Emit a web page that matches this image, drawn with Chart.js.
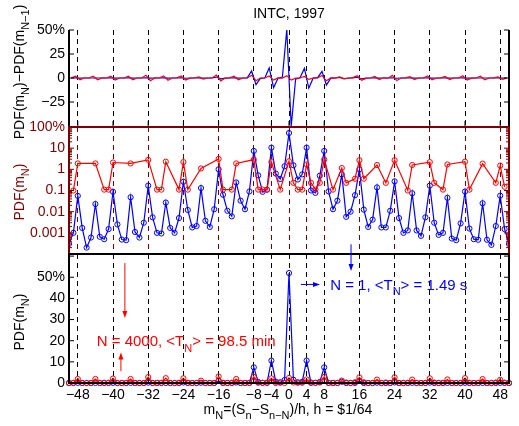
<!DOCTYPE html>
<html>
<head>
<meta charset="utf-8">
<script src="https://cdn.jsdelivr.net/npm/chart.js@4.4.1/dist/chart.umd.min.js"></script>
<style>
  body { margin: 0; background: #fff; }
  #wrap { position: relative; width: 519px; height: 426px; }
  canvas { position: absolute; left: 0; top: 0; }
</style>
</head>
<body>
<div id="wrap">
  <canvas id="top_panel" width="519" height="426"></canvas>
  <canvas id="mid_panel" width="519" height="426"></canvas>
  <canvas id="bot_panel" width="519" height="426"></canvas>
</div>
<script>
// bins m = -50 .. 50 (price change in ticks of $1/64)
const bins = Array.from({ length: 101 }, (_, i) => i - 50);
// half-integer positions for the adjacent-bin differences (top panel)
const diff_bins = Array.from({ length: 100 }, (_, i) => i - 49.5);

// PDF in %, N = 1 (blue)
const pdf_n1 = [
  0.0003, 0.001, 0.056, 0.0017, 0.0002, 0.0006, 0.023, 0.00065, 0.0005, 0.0015, // -50..-41
  0.087, 0.0025, 0.00048, 0.00045, 0.048, 0.0011, 0.0006, 0.003, 0.17, 0.0054, // -40..-31
  0.001, 0.00093, 0.027, 0.0017, 0.001, 0.005, 0.26, 0.012, 0.0018, 0.0021, // -30..-21
  0.13, 0.0037, 0.0019, 0.013, 1.0, 0.063, 0.011, 0.006, 0.24, 0.033, // -20..-11
  0.013, 0.09, 7.4, 0.52, 0.087, 0.11, 10.6, 0.63, 0.35, 1.4, // -10..-1
  52, // 0
  1.55, 0.33, 0.58, 10.6, 0.1, 0.077, 0.5, 7.4, 0.09, 0.013, // 1..10
  0.033, 0.58, 0.0057, 0.01, 0.06, 1.0, 0.0125, 0.0019, 0.0042, 0.14, // 11..20
  0.0018, 0.0018, 0.011, 0.27, 0.005, 0.001, 0.0013, 0.074, 0.0013, 0.00072, // 21..30
  0.0054, 0.17, 0.003, 0.0008, 0.001, 0.045, 0.00054, 0.00045, 0.0028, 0.089, // 31..40
  0.0016, 0.0005, 0.00047, 0.025, 0.00047, 0.00027, 0.0021, 0.057, 0.0015, 0.0003, // 41..50
];

// PDF in %, N = 4000 (red), 0 = empty bin
const pdf_n4000 = [
  0, 0.1, 1.9, 0, 0, 0, 1.9, 0, 0.11, 0.11, // -50..-41
  2.1, 0, 0, 0, 1.9, 0, 0, 0, 2.8, 0, // -40..-31
  0.11, 0.11, 2.3, 0, 0, 0.11, 2.2, 0.11, 0, 0, // -30..-21
  1.1, 0, 0, 0, 3.1, 0.11, 0, 0.11, 1.9, 0, // -20..-11
  0, 0, 2.9, 0.11, 0.11, 0.11, 2.2, 0, 0.11, 0, // -10..-1
  2.4, // 0
  0.23, 0.11, 0.11, 1.7, 0.23, 0.11, 0.23, 2.9, 0, 0.11, // 1..10
  0, 1.15, 0.23, 0, 0.36, 2.7, 0.36, 0, 0, 1.6, // 11..20
  0, 0.23, 0, 2.7, 0, 0, 0.1, 1.6, 0, 0, // 21..30
  0, 2.2, 0.23, 0, 0.11, 1.7, 0, 0, 0, 2.3, // 31..40
  0.11, 0, 0, 1.86, 0, 0, 0.23, 1.5, 0.15, 0, // 41..50
];

// top panel, differences in %, at -49.5 .. 49.5
const diff_n1 = [
  0, 0.06, -0.05, 0, 0, 0.02, -0.02, 0, 0, 0.09,
  -0.08, 0, 0, 0.05, -0.05, 0, 0, 0.17, -0.16, 0,
  0, 0.03, -0.03, 0, 0, 0.26, -0.25, -0.01, 0, 0.13,
  -0.13, 0, 0.01, 0.99, -0.94, -0.05, -0.01, 0.23, -0.21, -0.02,
  0.08, 7.31, -6.88, -0.43, 0.02, 10.49, -9.97, -0.28, 1.05, 50.6,
  -50.45, -1.22, 0.25, 10.02, -10.5, -0.02, 0.42, 6.9, -7.31, -0.08,
  0.02, 0.55, -0.57, 0, 0.05, 0.94, -0.99, -0.01, 0, 0.14,
  -0.14, 0, 0.01, 0.26, -0.27, 0, 0, 0.07, -0.07, 0,
  0, 0.16, -0.17, 0, 0, 0.04, -0.04, 0, 0, 0.09,
  -0.09, 0, 0, 0.02, -0.02, 0, 0, 0.06, -0.06, 0,
];
const diff_n4000 = [
  0.1, 1.8, -1.9, 0, 0, 1.9, -1.9, 0.11, 0, 1.99,
  -2.1, 0, 0, 1.9, -1.9, 0, 0, 2.8, -2.8, 0.11,
  0, 2.19, -2.3, 0, 0.11, 2.09, -2.09, -0.11, 0, 1.1,
  -1.1, 0, 0, 3.1, -2.99, -0.11, 0.11, 1.79, -1.9, 0,
  0, 2.9, -2.79, 0, 0, 2.09, -2.2, 0.11, -0.11, 2.4,
  -2.17, -0.12, 0, 1.59, -1.47, -0.12, 0.12, 2.67, -2.9, 0.11,
  -0.11, 1.15, -0.92, -0.23, 0.36, 2.34, -2.34, -0.36, 0, 1.6,
  -1.6, 0.23, -0.23, 2.7, -2.7, 0, 0.1, 1.5, -1.6, 0,
  0, 2.2, -1.97, -0.23, 0.11, 1.59, -1.7, 0, 0, 2.3,
  -2.19, -0.11, 0, 1.86, -1.86, 0, 0.23, 1.27, -1.35, -0.15,
];

const xTicks = [-48, -40, -32, -24, -16, -8, -4, 0, 4, 8, 16, 24, 32, 40, 48];
const topTicks = [-25, 0, 25, 50];
const midTicks = [0.001, 0.01, 0.1, 1, 10, 100];
const botTicks = [0, 10, 20, 30, 40, 50];

const FONT = '"Liberation Sans", Arial, Helvetica, sans-serif';
const DARK_RED = "#800000";
const BLUE = "#0000ff";
const RED = "#ff0000";
const AREA_LEFT = 69;

function fmtMinus(v) {
  return v < 0 ? "\u2212" + Math.abs(v) : String(v);
}

// text with _{sub} parts; (x, y) = centre of the main glyphs
function drawRich(ctx, str, x, y, size, color, align, rotated) {
  const parts = str
    .split(/_\{([^}]*)\}/)
    .map((t, i) => ({ t: t, sub: i % 2 === 1 }))
    .filter((p) => p.t);
  const subSize = Math.round(size * 0.75);
  ctx.save();
  ctx.translate(x, y);
  if (rotated) ctx.rotate(-Math.PI / 2);
  ctx.fillStyle = color;
  ctx.textBaseline = "alphabetic";
  let total = 0;
  parts.forEach((p) => {
    ctx.font = (p.sub ? subSize : size) + "px " + FONT;
    p.w = ctx.measureText(p.t).width;
    total += p.w;
  });
  let cx = align === "center" ? -total / 2 : 0;
  const base = size * 0.36;
  parts.forEach((p) => {
    ctx.font = (p.sub ? subSize : size) + "px " + FONT;
    ctx.fillText(p.t, cx, base + (p.sub ? size * 0.38 : 0));
    cx += p.w;
  });
  ctx.restore();
}

function arrow(ctx, x1, y1, x2, y2, color) {
  const a = Math.atan2(y2 - y1, x2 - x1);
  const c = Math.cos(a), s = Math.sin(a);
  ctx.save();
  ctx.strokeStyle = color;
  ctx.fillStyle = color;
  ctx.lineWidth = 1;
  ctx.beginPath();
  ctx.moveTo(x1, y1);
  ctx.lineTo(x2 - 5 * c, y2 - 5 * s);
  ctx.stroke();
  ctx.beginPath();
  ctx.moveTo(x2, y2);
  ctx.lineTo(x2 - 7 * c + 2.5 * s, y2 - 7 * s - 2.5 * c);
  ctx.lineTo(x2 - 7 * c - 2.5 * s, y2 - 7 * s + 2.5 * c);
  ctx.closePath();
  ctx.fill();
  ctx.restore();
}

// inward tick marks and axis box lines, MATLAB style
function drawFrame(chart, o) {
  const { ctx, chartArea: a, scales } = chart;
  const x = scales.x, y = scales.y;
  ctx.save();
  ctx.strokeStyle = o.color;
  ctx.lineWidth = 1;
  ctx.beginPath();
  o.yMajor.forEach((v) => {
    const py = y.getPixelForValue(v);
    ctx.moveTo(a.left, py); ctx.lineTo(a.left + 5, py);
    ctx.moveTo(a.right, py); ctx.lineTo(a.right - 5, py);
  });
  (o.yMinor || []).forEach((v) => {
    const py = y.getPixelForValue(v);
    ctx.moveTo(a.left, py); ctx.lineTo(a.left + 3, py);
    ctx.moveTo(a.right, py); ctx.lineTo(a.right - 3, py);
  });
  (o.xEdges || []).forEach((edge) => {
    const py = edge === "top" ? a.top : a.bottom;
    const d = edge === "top" ? 5 : -5;
    xTicks.forEach((v) => {
      const px = x.getPixelForValue(v);
      ctx.moveTo(px, py); ctx.lineTo(px, py + d);
    });
  });
  ctx.stroke();
  ctx.lineWidth = 2;
  ctx.beginPath();
  o.edges.forEach((e) => {
    if (e === "top") { ctx.moveTo(a.left - 1, a.top); ctx.lineTo(a.right + 1, a.top); }
    if (e === "bottom") { ctx.moveTo(a.left - 1, a.bottom); ctx.lineTo(a.right + 1, a.bottom); }
    if (e === "left") { ctx.moveTo(a.left, a.top); ctx.lineTo(a.left, a.bottom); }
    if (e === "right") { ctx.moveTo(a.right, a.top); ctx.lineTo(a.right, a.bottom); }
  });
  ctx.stroke();
  ctx.restore();
}

function xScale(showLabels, boxHeight, gridColor) {
  return {
    type: "linear",
    min: -50,
    max: 50,
    afterBuildTicks: (s) => { s.ticks = xTicks.map((v) => ({ value: v })); },
    afterFit: (s) => { s.height = boxHeight; },
    grid: { color: gridColor, lineWidth: 1, drawTicks: false },
    border: { display: false, dash: [5, 4] },
    ticks: {
      display: showLabels,
      autoSkip: false,
      maxRotation: 0,
      padding: 4,
      color: "#000",
      font: { family: FONT, size: 14 },
      callback: (v) => fmtMinus(v),
    },
  };
}

function yScale(type, min, max, tickList, color, label) {
  return {
    type: type,
    min: min,
    max: max,
    afterBuildTicks: (s) => { s.ticks = tickList.map((v) => ({ value: v })); },
    afterFit: (s) => { s.width = AREA_LEFT; },
    grid: { display: false, drawTicks: false },
    border: { display: false },
    ticks: { color: color, padding: 4, autoSkip: false, font: { family: FONT, size: 14 }, callback: label },
  };
}

function lineSet(xs, ys, color, markers) {
  return {
    data: xs.map((x, i) => ({ x: x, y: ys[i] })),
    borderColor: color,
    borderWidth: 1.2,
    pointRadius: markers ? 2.6 : 0,
    pointBorderWidth: 1,
    pointBorderColor: color,
    pointBackgroundColor: "rgba(0,0,0,0)",
    spanGaps: true,
  };
}

function baseOptions(padTop, scales) {
  return {
    responsive: false,
    animation: false,
    events: [],
    devicePixelRatio: 1,
    layout: { padding: { left: 0, right: 10, top: padTop, bottom: 0 } },
    plugins: { legend: { display: false }, tooltip: { enabled: false } },
    scales: scales,
  };
}

// top panel: PDF(m_N) - PDF(m_N-1)
new Chart(document.getElementById("top_panel"), {
  type: "line",
  data: {
    datasets: [
      lineSet(diff_bins, diff_n4000, RED, false),
      lineSet(diff_bins, diff_n1, BLUE, false),
    ],
  },
  options: baseOptions(30, {
    x: xScale(false, 300, "#000"),
    y: yScale("linear", -50, 50, topTicks, "#000", (v) => (v === 50 ? "50%" : fmtMinus(v))),
  }),
  plugins: [
    {
      id: "topDeco",
      afterDraw: (chart) => {
        drawFrame(chart, { color: "#000", yMajor: topTicks, xEdges: ["bottom"], edges: ["left", "right"] });
        const ctx = chart.ctx;
        drawRich(ctx, "INTC, 1997", 289, 13, 14, "#000", "center", false);
        drawRich(ctx, "PDF(m_{N})\u2212PDF(m_{N\u22121})", 19, 72, 14, "#000", "center", true);
      },
    },
  ],
});

// middle panel: log scale
const minorLog = [];
[0.0001, 0.001, 0.01, 0.1, 1, 10].forEach((d) => {
  for (let k = 2; k <= 9; k++) minorLog.push(d * k);
});

new Chart(document.getElementById("mid_panel"), {
  type: "line",
  data: {
    datasets: [
      lineSet(bins, pdf_n4000.map((v) => (v > 0 ? v : null)), RED, true),
      lineSet(bins, pdf_n1, BLUE, true),
    ],
  },
  options: baseOptions(127, {
    x: xScale(false, 172, DARK_RED),
    y: yScale("logarithmic", 0.0001, 100, midTicks, DARK_RED, (v) => (v === 100 ? "100%" : String(v))),
  }),
  plugins: [
    {
      id: "midDeco",
      afterDraw: (chart) => {
        drawFrame(chart, { color: DARK_RED, yMajor: midTicks, yMinor: minorLog, edges: ["top", "left", "right"] });
        drawRich(chart.ctx, "PDF(m_{N})", 19, 192, 14, DARK_RED, "center", true);
      },
    },
  ],
});

// bottom panel: linear PDF
const botDatasets = [lineSet(bins, pdf_n4000, RED, true), lineSet(bins, pdf_n1, BLUE, true)];
botDatasets.forEach((d) => { d.clip = false; });

new Chart(document.getElementById("bot_panel"), {
  type: "line",
  data: { datasets: botDatasets },
  options: baseOptions(254, {
    x: xScale(true, 43, "#000"),
    y: yScale("linear", 0, 61, botTicks, "#000", (v) => (v === 50 ? "50%" : String(v))),
  }),
  plugins: [
    {
      id: "botDeco",
      afterDraw: (chart) => {
        drawFrame(chart, {
          color: "#000",
          yMajor: [0, 10, 20, 30, 40, 50, 60],
          xEdges: ["bottom"],
          edges: ["top", "left", "right", "bottom"],
        });
        const ctx = chart.ctx;
        const x = chart.scales.x, y = chart.scales.y;
        const px = (v) => x.getPixelForValue(v);
        const py = (v) => y.getPixelForValue(v);
        drawRich(ctx, "PDF(m_{N})", 19, 322, 14, "#000", "center", true);
        drawRich(ctx, "m_{N}=(S_{n}\u2212S_{n\u2212N})/h, h = $1/64", 288, 409, 14, "#000", "center", false);

        // N = 1 annotation
        arrow(ctx, px(14.1), py(65.6), px(14.1), py(53), BLUE);
        arrow(ctx, px(2.7), py(46.6), px(7.05), py(46.6), BLUE);
        drawRich(ctx, "N = 1, <T_{N}> = 1.49 s", px(9.35), py(46.7), 15, BLUE, "left", false);

        // N = 4000 annotation
        arrow(ctx, px(-37.3), py(56.7), px(-37.3), py(30.7), RED);
        arrow(ctx, px(-38.2), py(5.6), px(-38.2), py(14.4), RED);
        drawRich(ctx, "N = 4000, <T_{N}> = 98.5 min", px(-43.7), py(20), 15, RED, "left", false);
      },
    },
  ],
});
</script>
</body>
</html>
